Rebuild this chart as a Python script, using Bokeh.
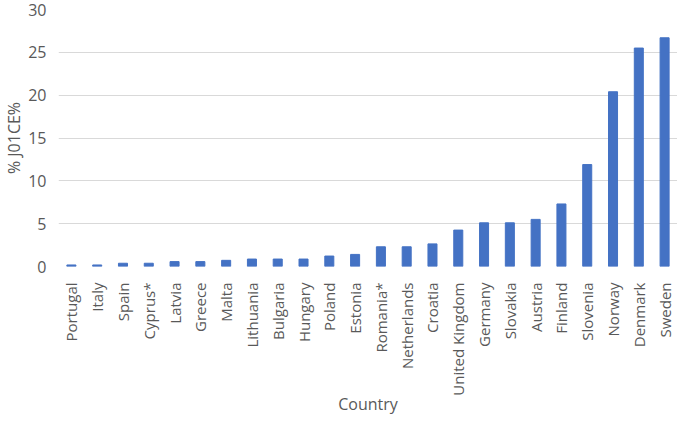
import math
from bokeh.plotting import figure
from bokeh.models import FactorRange, Range1d, FixedTicker
from bokeh.embed import file_html
from bokeh.resources import INLINE

countries = ["Portugal", "Italy", "Spain", "Cyprus*", "Latvia", "Greece", "Malta",
             "Lithuania", "Bulgaria", "Hungary", "Poland", "Estonia", "Romania*",
             "Netherlands", "Croatia", "United Kingdom", "Germany", "Slovakia",
             "Austria", "Finland", "Slovenia", "Norway", "Denmark", "Sweden"]
values = [0.18, 0.18, 0.38, 0.38, 0.57, 0.57, 0.72, 0.87, 0.87, 0.87, 1.22, 1.41,
          2.3, 2.3, 2.64, 4.25, 5.1, 5.1, 5.5, 7.3, 11.9, 20.4, 25.5, 26.7]
y_ticks = [0, 5, 10, 15, 20, 25, 30]

FONT = "Open Sans"
GREY = "#595959"

p = figure(x_range=FactorRange(*countries), y_range=Range1d(0, 30),
           width=677, height=417, output_backend="svg", toolbar_location=None,
           min_border_left=50, min_border_right=0, min_border_top=9, min_border_bottom=0)

p.vbar(x=countries, top=values, width=0.35, color="#4472C4")

p.outline_line_color = None
p.xgrid.grid_line_color = None
p.ygrid.grid_line_color = "#d9d9d9"
p.ygrid.grid_line_width = 1
p.yaxis.ticker = FixedTicker(ticks=y_ticks)

for ax in (p.xaxis[0], p.yaxis[0]):
    ax.axis_line_color = None
    ax.major_tick_line_color = None
    ax.minor_tick_line_color = None
    ax.major_label_text_font = FONT
    ax.major_label_text_color = GREY
    ax.major_label_text_font_size = "16px"
    ax.axis_label_text_font = FONT
    ax.axis_label_text_color = GREY
    ax.axis_label_text_font_size = "16px"
    ax.axis_label_text_font_style = "normal"

p.xaxis.major_label_text_font_size = "15px"
p.xaxis.axis_label = "Country"
p.yaxis.axis_label = "% J01CE%"
p.xaxis.major_label_orientation = math.pi / 2
p.xaxis.major_label_standoff = 10
p.xaxis.axis_label_standoff = -6
p.yaxis.major_label_standoff = 6
p.yaxis.axis_label_standoff = 0

open("out.html", "w").write(file_html(p, INLINE))
